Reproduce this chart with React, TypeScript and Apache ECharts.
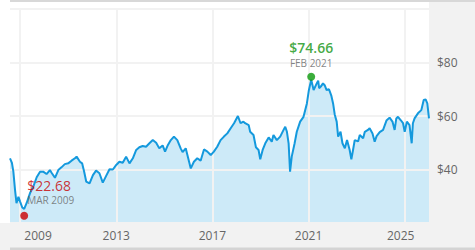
import React, { useEffect, useRef } from "react";
import * as echarts from "echarts";

const years = [
  2008.58, 2008.66, 2008.72, 2008.79, 2008.85, 2008.93, 2009.0, 2009.09, 2009.17, 2009.27,
  2009.41, 2009.55, 2009.69, 2009.83, 2009.96, 2010.1, 2010.24, 2010.31, 2010.45, 2010.59,
  2010.72, 2010.86, 2011.0, 2011.14, 2011.28, 2011.35, 2011.49, 2011.58, 2011.67, 2011.75,
  2011.89, 2012.03, 2012.16, 2012.3, 2012.44, 2012.58, 2012.72, 2012.86, 2013.0, 2013.13,
  2013.27, 2013.41, 2013.55, 2013.69, 2013.83, 2013.96, 2014.1, 2014.24, 2014.38, 2014.52,
  2014.66, 2014.79, 2014.93, 2015.03, 2015.15, 2015.27, 2015.4, 2015.54, 2015.68, 2015.76,
  2015.89, 2015.96, 2016.1, 2016.23, 2016.37, 2016.51, 2016.65, 2016.79, 2016.93, 2017.06,
  2017.2, 2017.34, 2017.48, 2017.62, 2017.76, 2017.9, 2018.06, 2018.17, 2018.29, 2018.36,
  2018.51, 2018.57, 2018.71, 2018.81, 2018.92, 2018.99, 2019.09, 2019.2, 2019.34, 2019.47,
  2019.54, 2019.68, 2019.82, 2019.96, 2020.03, 2020.1, 2020.17, 2020.23, 2020.3, 2020.42,
  2020.51, 2020.65, 2020.79, 2020.93, 2021.01, 2021.11, 2021.21, 2021.34, 2021.4, 2021.44,
  2021.51, 2021.6, 2021.67, 2021.75, 2021.85, 2021.95, 2022.02, 2022.09, 2022.17, 2022.23,
  2022.33, 2022.41, 2022.51, 2022.6, 2022.71, 2022.78, 2022.85, 2022.92, 2023.06, 2023.13,
  2023.27, 2023.34, 2023.47, 2023.54, 2023.66, 2023.75, 2023.83, 2023.96, 2024.1, 2024.24,
  2024.37, 2024.49, 2024.58, 2024.65, 2024.72, 2024.83, 2024.93, 2025.0, 2025.09, 2025.2,
  2025.29, 2025.34, 2025.41, 2025.55, 2025.69, 2025.79, 2025.87, 2025.94, 2026.01,
];

const prices = [
  44.2, 42.5, 39.2, 32.3, 27.4, 29.8, 28.0, 25.8, 25.3, 27.4,
  31.1, 33.6, 37.1, 39.2, 39.2, 38.3, 39.8, 38.8, 36.9, 39.8,
  40.8, 42.0, 42.3, 43.3, 44.2, 44.8, 42.9, 42.3, 39.0, 35.5,
  34.8, 37.9, 39.6, 38.6, 35.1, 37.6, 40.1, 40.0, 41.7, 42.9,
  42.5, 44.8, 42.3, 44.2, 47.3, 48.3, 48.8, 48.5, 49.8, 51.0,
  50.0, 47.9, 49.0, 46.7, 49.2, 51.0, 52.3, 51.0, 47.9, 46.5,
  47.9, 45.4, 40.4, 42.9, 44.2, 43.3, 47.5, 46.7, 45.4, 46.7,
  48.5, 51.0, 52.3, 53.5, 55.4, 57.3, 60.0, 57.3, 57.9, 57.3,
  56.6, 54.1, 52.9, 48.3, 47.3, 43.8, 47.3, 49.8, 52.0, 50.4,
  52.9, 51.0, 52.3, 54.8, 56.0, 54.1, 49.8, 39.2, 44.8, 49.8,
  54.1, 57.9, 59.7, 64.7, 69.5, 73.6, 69.7, 72.2, 73.2, 70.4,
  71.0, 72.2, 71.5, 69.7, 70.0, 67.5, 64.7, 60.5, 57.9, 52.3,
  54.1, 49.8, 47.9, 51.0, 47.3, 43.8, 47.3, 51.0, 50.5, 52.9,
  51.7, 54.1, 54.8, 55.4, 53.5, 50.4, 52.5, 54.0, 54.8, 58.3,
  59.4, 57.9, 54.8, 59.1, 59.7, 58.5, 57.3, 54.1, 57.9, 56.6,
  49.8, 57.3, 59.1, 61.0, 62.2, 66.0, 66.2, 64.7, 59.1,
];

const xTickYears = [2009, 2013, 2017, 2021, 2025];
const yMin = 20;
const yMax = 100;
const yStep = 20;

const peakPoint = { year: 2021.11, price: 74.66, label: "FEB 2021" };
const lowPoint = { year: 2009.17, price: 22.68, label: "MAR 2009" };

const FONT = "'Open Sans', 'Noto Sans', sans-serif";

export default function App() {
  const ref = useRef<HTMLDivElement>(null);

  useEffect(() => {
    if (!ref.current) return;
    const chart = echarts.init(ref.current, null, { renderer: "svg" });
    const lineData = years.map((y, i) => [y, prices[i]]);

    chart.setOption({
      animation: false,
      backgroundColor: "#ffffff",
      textStyle: { fontFamily: FONT },
      grid: { left: 10, right: 46, top: 9, bottom: 27, containLabel: false },
      graphic: [
        { type: "rect", z: 0, silent: true, shape: { x: 0, y: 223, width: 475, height: 27 }, style: { fill: "#f2f2f2" } },
        { type: "rect", z: 0, silent: true, shape: { x: 429, y: 0, width: 46, height: 250 }, style: { fill: "#f2f2f2" } },
        { type: "rect", z: 0, silent: true, shape: { x: 10, y: 0, width: 465, height: 2 }, style: { fill: "#d8d8d8" } },
        { type: "rect", z: 0, silent: true, shape: { x: 10, y: 247.5, width: 465, height: 2.5 }, style: { fill: "#d4d4d4" } },
      ],
      xAxis: {
        type: "value",
        min: "dataMin",
        max: "dataMax",
        z: 3,
        axisLine: { show: false },
        axisTick: { show: false, customValues: xTickYears },
        splitLine: { show: true, lineStyle: { color: "#f2f2f2", width: 2 } },
        axisLabel: {
          customValues: xTickYears,
          color: "#666666",
          fontSize: 12,
          fontFamily: FONT,
          margin: 6,
          formatter: (v: number) => {
            if (v === xTickYears[0]) return "{first|" + v + "}";
            if (v === xTickYears[xTickYears.length - 1]) return "{last|" + v + "}";
            return String(v);
          },
          rich: {
            first: { padding: [0, 0, 0, 36], color: "#666666", fontSize: 12, fontFamily: FONT },
            last: { padding: [0, 8, 0, 0], color: "#666666", fontSize: 12, fontFamily: FONT },
          },
        },
      },
      yAxis: {
        type: "value",
        position: "right",
        min: yMin,
        max: yMax,
        interval: yStep,
        z: 3,
        axisLine: { show: false },
        axisTick: { show: false },
        splitLine: { show: true, lineStyle: { color: "#f2f2f2", width: 2 } },
        axisLabel: {
          showMinLabel: false,
          showMaxLabel: false,
          color: "#666666",
          fontSize: 12,
          fontFamily: FONT,
          margin: 8,
          formatter: (v: number) => "$" + v,
        },
      },
      series: [
        {
          name: "area",
          type: "line",
          z: 1,
          data: lineData,
          showSymbol: false,
          symbol: "none",
          lineStyle: { width: 0 },
          areaStyle: { color: "#cdeaf8", opacity: 1 },
          silent: true,
        },
        {
          name: "price",
          type: "line",
          z: 5,
          data: lineData,
          showSymbol: false,
          symbol: "none",
          lineStyle: { width: 2, color: "#1499dd" },
          silent: true,
        },
        {
          name: "peak",
          type: "scatter",
          z: 6,
          symbol: "circle",
          symbolSize: 8,
          itemStyle: { color: "#0a980a" },
          data: [[peakPoint.year, peakPoint.price]],
          label: {
            show: true,
            position: "top",
            distance: 4,
            align: "center",
            formatter: () => "{v|$" + peakPoint.price.toFixed(2) + "}\n{d|" + peakPoint.label + "}",
            rich: {
              v: { fontSize: 14, fontWeight: 600, color: "#129412", lineHeight: 18, fontFamily: FONT, align: "center" },
              d: { fontSize: 10, color: "#666666", lineHeight: 12, fontFamily: FONT, align: "center" },
            },
          },
        },
        {
          name: "low",
          type: "scatter",
          z: 6,
          symbol: "circle",
          symbolSize: 8,
          itemStyle: { color: "#cc0000" },
          data: [[lowPoint.year, lowPoint.price]],
          label: {
            show: true,
            position: [7, -35],
            align: "left",
            verticalAlign: "top",
            formatter: () => "{v|$" + lowPoint.price.toFixed(2) + "}\n{d|" + lowPoint.label + "}",
            rich: {
              v: { fontSize: 14, color: "#c80000", lineHeight: 17, fontFamily: FONT },
              d: { fontSize: 10, color: "#666666", lineHeight: 13, fontFamily: FONT },
            },
          },
        },
      ],
    });

    return () => chart.dispose();
  }, []);

  return (
    <div
      ref={ref}
      style={{ position: "fixed", left: 0, top: 0, width: 475, height: 250 }}
    />
  );
}
